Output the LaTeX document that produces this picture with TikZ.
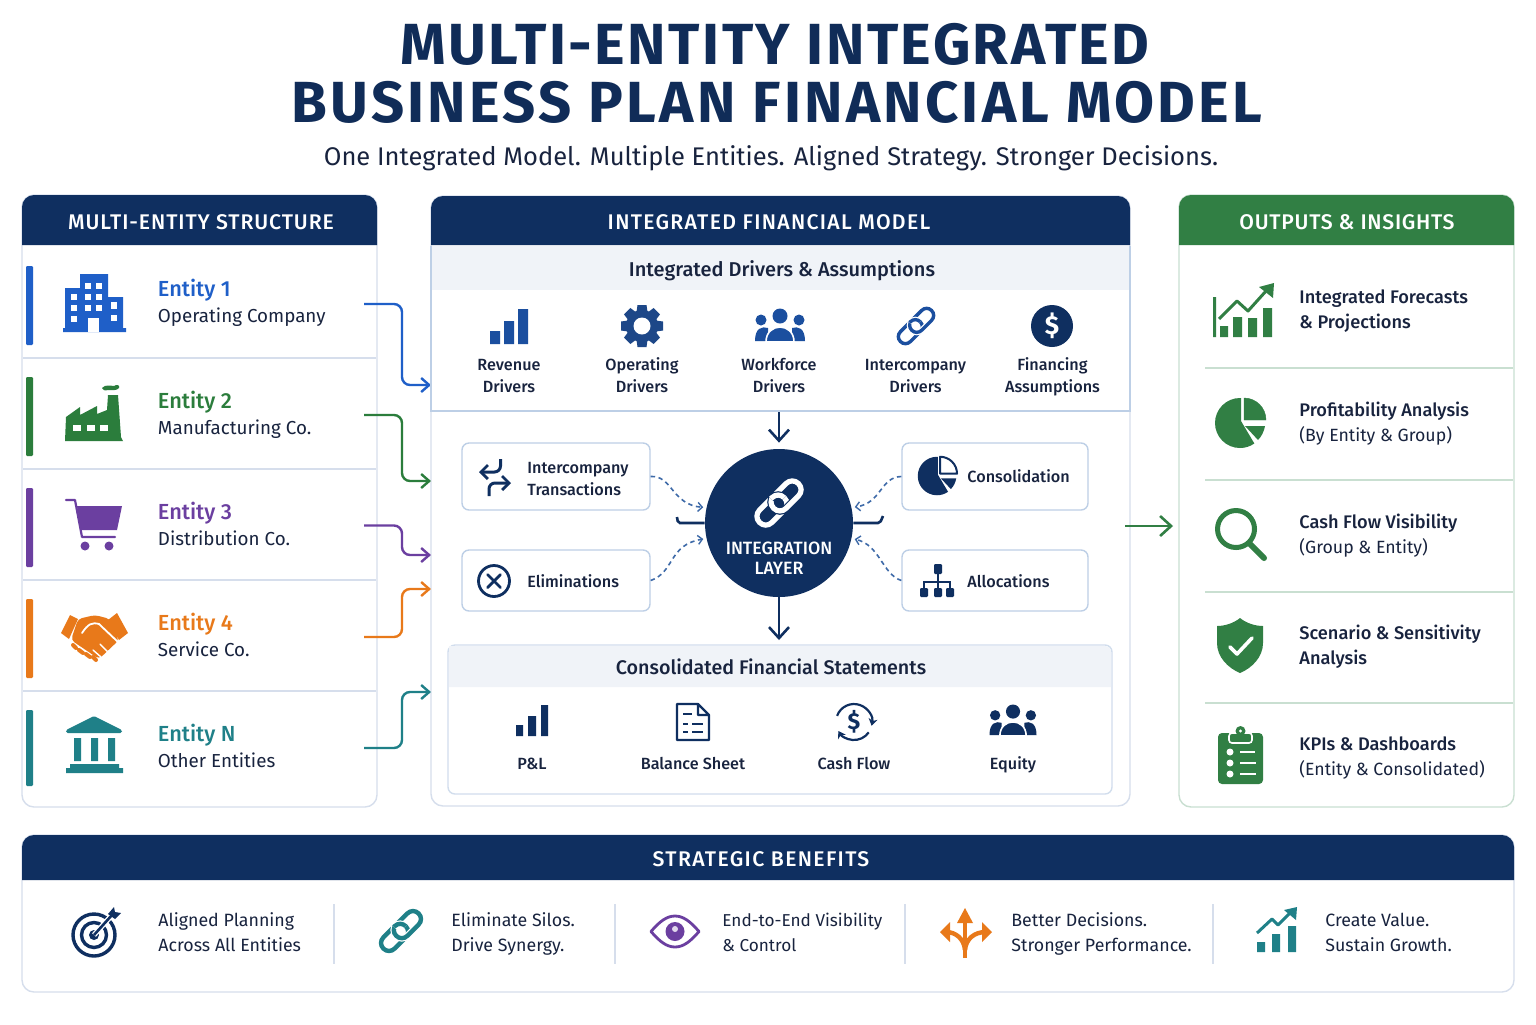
\documentclass[tikz,border=0pt]{standalone}
\usepackage{fontspec}
\setmainfont{Fira Sans}
\newfontfamily\fmed{Fira Sans Medium}
\newfontfamily\ftitleA{Fira Sans}[LetterSpace=4.3]
\newfontfamily\ftitleB{Fira Sans}[LetterSpace=5.6]
\usetikzlibrary{arrows.meta}
\definecolor{navy}{HTML}{0F2F60}
\definecolor{titleink}{HTML}{102C58}
\definecolor{ink}{HTML}{18233E}
\definecolor{royal}{HTML}{1B4F9F}
\definecolor{gearblue}{HTML}{1D4788}
\definecolor{eblue}{HTML}{1F5FC8}
\definecolor{egreen}{HTML}{2B7D3C}
\definecolor{epurple}{HTML}{6B3FA0}
\definecolor{eorange}{HTML}{E8791A}
\definecolor{eteal}{HTML}{1F8088}
\definecolor{hgreen}{HTML}{317F44}
\definecolor{panelline}{HTML}{D6DEEC}
\definecolor{greenline}{HTML}{C9DFD1}
\definecolor{band}{HTML}{F0F3F8}
\definecolor{boxline}{HTML}{BDCFE6}
\definecolor{dashblue}{HTML}{3E6AA8}
\newcommand\linkApath{(-15,-7) -- (-1,-7) .. controls (3,-7) and (6,-4) .. (6,0) .. controls (6,4) and (3,7) .. (-1,7) -- (-15,7) .. controls (-19,7) and (-22,4) .. (-22,0) .. controls (-22,-4) and (-19,-7) .. (-15,-7) -- cycle}
\newcommand\linkBpath{(1,-7) -- (15,-7) .. controls (19,-7) and (22,-4) .. (22,0) .. controls (22,4) and (19,7) .. (15,7) -- (1,7) .. controls (-3,7) and (-6,4) .. (-6,0) .. controls (-6,-4) and (-3,-7) .. (1,-7) -- cycle}
\newcommand\tl[2]{\strut #1\\\strut #2}
\newcommand\omed[1]{{\fmed\fontsize{9.1}{12.5}\selectfont #1}}
\newcommand\ename[2]{{\fmed\color{#1}\fontsize{10.9}{13}\selectfont #2}}
\tikzset{
  x=.5pt,y=-.5pt,
  txt/.style={inner sep=0pt,text=ink,anchor=west,align=left,yshift=-1pt,font=\fontsize{9.4}{13}\selectfont},
  otxt/.style={inner sep=0pt,text=ink,anchor=west,align=left,yshift=-.5pt,font=\fontsize{8.85}{12.5}\selectfont},
  btxt/.style={inner sep=0pt,text=ink,anchor=west,align=left,yshift=-.5pt,font=\fontsize{8.9}{12.5}\selectfont},
  ctxt/.style={inner sep=0pt,text=ink,anchor=center,align=center,yshift=-1pt,font=\fmed\fontsize{8.1}{11}\selectfont},
  ltxt/.style={ctxt,anchor=west,align=left},
  bandtxt/.style={inner sep=0pt,text=ink,anchor=center,yshift=-1.5pt,font=\fmed\fontsize{#1}{12}\selectfont},
  headtxt/.style={inner sep=0pt,text=white,anchor=center,font=\fmed\fontsize{10.6}{12}\selectfont\addfontfeature{LetterSpace=#1}},
  minibox/.style={draw=boxline,line width=.7pt,rounded corners=3.5pt,fill=white,inner sep=0pt},
  conn/.style={line width=1.2pt,rounded corners=4pt,-{Straight Barb[length=4pt,width=7pt,line width=1.2pt]}},
  flow/.style={line width=1.3pt,-{Straight Barb[length=5.5pt,width=10pt,line width=1.3pt]}},
  dashflow/.style={dashblue,line width=.8pt,dash pattern=on 2.2pt off 1.8pt,shorten >=1.5pt,-{Straight Barb[length=2.2pt,width=4.5pt,line width=.7pt]}},
  pics/barsicon/.style={code={\fill[#1] (-19,5) rectangle (-9,18) (-5,-5) rectangle (5,18) (9,-17) rectangle (19,18);}},
  pics/gearicon/.style={code={
    \foreach \a in {0,45,...,315}{\fill[#1,rotate=\a] (-4.5,-21) -- (4.5,-21) -- (5.5,-14) -- (-5.5,-14) -- cycle;}
    \fill[#1] (0,0) circle (16);
    \fill[white] (0,0) circle (8.5);}},
  pics/people/.style={code={
    \fill[#1] (-19,-5) circle (5.5) (19,-5) circle (5.5) (0,-9) circle (7.5);
    \fill[#1] (-25,16) .. controls (-25,3) and (-18,1) .. (-12,3) -- (-12,16) -- cycle;
    \fill[#1] (25,16) .. controls (25,3) and (18,1) .. (12,3) -- (12,16) -- cycle;
    \fill[#1,draw=white,line width=.8pt] (-14,17) .. controls (-14,-3) and (14,-3) .. (14,17) -- cycle;}},
  pics/linkicon/.style n args={3}{code={
    \begin{scope}[rotate=45]
      \draw[#1,line width=#3] \linkApath;
      \draw[#2,line width=#3+1.2pt] \linkBpath;
      \draw[#1,line width=#3] \linkBpath;
      \clip (-2,-14) rectangle (12,0);
      \draw[#2,line width=#3+1.2pt] \linkApath;
      \draw[#1,line width=#3] \linkApath;
    \end{scope}}},
  pics/pieicon/.style n args={3}{code={
    \fill[#1] (1,-25) -- (0,-25) arc[start angle=-90,end angle=-305,radius=25] -- (1,-2) -- cycle;
    \draw[#1,line width=#3,fill=#2,line join=round] (4,-3) -- (4,-25) arc[start angle=-90,end angle=0,radius=22] -- cycle;
    \fill[#1] (5,3) -- (25,3) .. controls (24,8) and (22,13) .. (18,17) -- cycle;}},
}
\begin{document}
\begin{tikzpicture}
\useasboundingbox (0,0) rectangle (1536,1024);
\fill[white] (0,0) rectangle (1536,1024);

% ---- title
\node[inner sep=0pt,text=titleink,font=\ftitleA\bfseries\fontsize{29}{29}\selectfont] (title1) at (775,44) {MULTI-ENTITY INTEGRATED};
\node[inner sep=0pt,text=titleink,font=\ftitleB\bfseries\fontsize{29}{29}\selectfont] (title2) at (777,102) {BUSINESS PLAN FINANCIAL MODEL};
\node[inner sep=0pt,text=ink,yshift=-1.5pt,font=\fontsize{12.76}{16}\selectfont] (subtitle) at (771,156) {\strut One Integrated Model. Multiple Entities. Aligned Strategy. Stronger Decisions.};

% ---- panels
\draw[panelline,line width=.7pt,fill=white,rounded corners=6pt] (22,195) rectangle (377,807);
\fill[navy] (22,245) [rounded corners=6pt] -- (22,195) -- (377,195) [sharp corners] -- (377,245) -- cycle;
\draw[panelline,line width=.7pt,fill=white,rounded corners=6pt] (431,196) rectangle (1130,806);
\fill[navy] (431,245) [rounded corners=6pt] -- (431,196) -- (1130,196) [sharp corners] -- (1130,245) -- cycle;
\draw[greenline,line width=.7pt,fill=white,rounded corners=6pt] (1179,195) rectangle (1514,807);
\fill[hgreen] (1179,245) [rounded corners=6pt] -- (1179,195) -- (1514,195) [sharp corners] -- (1514,245) -- cycle;
\draw[panelline,line width=.7pt,fill=white,rounded corners=6pt] (22,835) rectangle (1514,992);
\fill[navy] (22,880) [rounded corners=6pt] -- (22,835) -- (1514,835) [sharp corners] -- (1514,880) -- cycle;

\node[headtxt=4.3] (hleft) at (201,222) {MULTI-ENTITY STRUCTURE};
\node[headtxt=6.1] (hmid) at (769,222) {INTEGRATED FINANCIAL MODEL};
\node[headtxt=3.4] (hright) at (1347,222) {OUTPUTS \& INSIGHTS};
\node[headtxt=6.3] (hbottom) at (761,859) {STRATEGIC BENEFITS};

% ---- left rows
\foreach \y in {358,469,580,691} \draw[panelline,line width=.6pt] (23,\y) -- (376,\y);
\fill[eblue,rounded corners=.6pt] (26,266) rectangle (33,345);
\fill[egreen,rounded corners=.6pt] (26,377) rectangle (33,456);
\fill[epurple,rounded corners=.6pt] (26,488) rectangle (33,567);
\fill[eorange,rounded corners=.6pt] (26,599) rectangle (33,678);
\fill[eteal,rounded corners=.6pt] (26,710) rectangle (33,786);

\node[txt] (e1) at (157.5,302) {\tl{\ename{eblue}{Entity 1}}{Operating Company}};
\node[txt] (e2) at (157.5,414) {\tl{\ename{egreen}{Entity 2}}{Manufacturing Co.}};
\node[txt] (e3) at (157.5,525) {\tl{\ename{epurple}{Entity 3}}{Distribution Co.}};
\node[txt] (e4) at (157.5,636) {\tl{\ename{eorange}{Entity 4}}{Service Co.}};
\node[txt] (e5) at (157.5,747) {\tl{\ename{eteal}{Entity N}}{Other Entities}};

% building
\fill[eblue] (65,288) -- (80,288) -- (80,274) -- (108,274) -- (108,297) -- (123,297) -- (123,328) -- (126,328) -- (126,332) -- (63,332) -- (63,328) -- (65,328) -- cycle;
\foreach \p in {85/283,96/283,71/294,85/294,96/294,71/305,85/305,96/305,71/316,111/315}
  \foreach \a/\b in \p {\fill[white] (\a,\b) rectangle +(6,6);}
\fill[white] (111,302) rectangle (117,309);
\fill[white] (88,318) rectangle (99,332);
% factory
\fill[egreen] (66,417) -- (80,407) -- (80,415) -- (97,406) -- (97,414) -- (107,410) -- (108,395) -- (118,395) -- (121,437) -- (123,441) -- (65,441) -- cycle;
\foreach \a in {73,87,100} \fill[white] (\a,425) rectangle +(8,6);
\fill[egreen] (102,388) .. controls (105,384) and (112,386) .. (114,386) .. controls (117,384) and (120,385) .. (119,388) .. controls (117,391) and (111,390) .. (108,390) .. controls (105,391) and (102,390) .. (102,388) -- cycle;
% cart
\draw[epurple,line width=1.1pt,line join=round,line cap=round] (66,500) -- (75,500) -- (82,537) -- (115,537);
\fill[epurple] (77,506) -- (122,506) -- (117,530) -- (81,530) -- cycle;
\fill[epurple] (85,546) circle (4.5) (109,546) circle (4.5);
% handshake
\fill[eorange] (61,633) -- (70,615) -- (78,619) -- (69,639) -- cycle;
\fill[eorange] (117,613) -- (128,633) -- (119,640) -- (108,620) -- cycle;
\fill[eorange,rounded corners=2pt] (78,619) -- (95,615) -- (110,619) -- (119,640) -- (99,659) -- (71,640) -- cycle;
\draw[white,line width=.9pt,line cap=round] (82,633) .. controls (88,624) and (92,622) .. (99,624) -- (118,642);
\draw[white,line width=.7pt,line cap=round] (100,644) -- (108,652) (93,650) -- (101,657);
\draw[eorange,line width=2pt,line cap=round] (73,645) -- (76,648) (79,650) -- (83,653) (86,654) -- (90,657) (93,657) -- (96,660);
% bank
\fill[eteal,rounded corners=.8pt] (94,716) -- (122,730) -- (122,733) -- (66,733) -- (66,730) -- cycle;
\fill[eteal] (74,738) rectangle (81,761) (91,738) rectangle (98,761) (108,738) rectangle (115,761);
\fill[eteal] (70,764) rectangle (119,768) (66,768) rectangle (123,773);

% ---- entity connectors
\coordinate (e1o) at (364,304); \coordinate (e1b) at (402,345); \coordinate (e1i) at (431,385);
\coordinate (e2o) at (364,415); \coordinate (e2b) at (402,450); \coordinate (e2i) at (431,481);
\coordinate (e3o) at (364,525.5); \coordinate (e3b) at (402,540); \coordinate (e3i) at (431,555);
\coordinate (e4o) at (364,637); \coordinate (e4b) at (402,612); \coordinate (e4i) at (431,589);
\coordinate (e5o) at (364,748); \coordinate (e5b) at (402,720); \coordinate (e5i) at (431,692);
\draw[conn,eblue] (e1o) -| (e1b) |- (e1i);
\draw[conn,egreen] (e2o) -| (e2b) |- (e2i);
\draw[conn,epurple] (e3o) -| (e3b) |- (e3i);
\draw[conn,eorange] (e4o) -| (e4b) |- (e4i);
\draw[conn,eteal] (e5o) -| (e5b) |- (e5i);

% ---- drivers
\fill[band] (432,246) rectangle (1129,290);
\draw[boxline,line width=.7pt] (431,246) -- (431,411) -- (1130,411) -- (1130,246);
\node[bandtxt=10] (dtitle) at (782,269) {\strut Integrated Drivers \& Assumptions};
\pic at (509,326) {barsicon=royal};
\pic at (642,326) {gearicon=gearblue};
\pic at (780,325) {people=royal};
\pic at (916,326) {linkicon={royal}{white}{1.7pt}};
\node[circle,fill=navy,minimum size=21pt,inner sep=0pt,text=white,font=\bfseries\fontsize{13}{13}\selectfont] (dollarA) at (1052,326) {\$};
\node[ctxt] (d1) at (509,375) {\tl{Revenue}{Drivers}};
\node[ctxt] (d2) at (642,375) {\tl{Operating}{Drivers}};
\node[ctxt] (d3) at (779,375) {\tl{Workforce}{Drivers}};
\node[ctxt] (d4) at (915.5,375) {\tl{Intercompany}{Drivers}};
\node[ctxt] (d5) at (1052.5,375) {\tl{Financing}{Assumptions}};

% ---- hub
\coordinate (dbottom) at (779,412);
\node[circle,fill=navy,minimum size=74pt,inner sep=0pt] (hub) at (779,523) {};
\pic[scale=1.25] at (779,503) {linkicon={white}{navy}{2.6pt}};
\node[inner sep=0pt,text=white,align=center,yshift=-1.2pt,font=\fmed\fontsize{8.9}{10.2}\selectfont] (hubt) at (779,558) {\tl{INTEGRATION}{LAYER}};
\coordinate (stop) at (779,640);
\draw[flow,navy,shorten >=3pt] (dbottom) -- (hub.north);
\draw[flow,navy] (hub.south) -- (stop);

\node[minibox,minimum width=94pt,minimum height=33.5pt] (bIC) at (556,476.5) {};
\node[minibox,minimum width=94pt,minimum height=30.5pt] (bEL) at (556,580.5) {};
\node[minibox,minimum width=93pt,minimum height=33.5pt] (bCO) at (995,476.5) {};
\node[minibox,minimum width=93pt,minimum height=30.5pt] (bAL) at (995,580.5) {};
\node[ltxt] (tIC) at (527,478) {\tl{Intercompany}{Transactions}};
\node[ltxt] (tEL) at (527,581) {\strut Eliminations};
\node[ltxt] (tCO) at (967,476) {\strut Consolidation};
\node[ltxt] (tAL) at (967,581) {\strut Allocations};

\draw[dashflow] (bIC.east) .. controls (672,475) and (672,505) .. (hub.168);
\draw[dashflow] (bEL.east) .. controls (675,572) and (668,545) .. (hub.192);
\draw[dashflow] (bCO.west) .. controls (880,477) and (882,503) .. (hub.12);
\draw[dashflow] (bAL.west) .. controls (882,574) and (880,545) .. (hub.-12);
% short marks at the hub
\coordinate (mL) at (677,517); \coordinate (mLa) at (678,523);
\coordinate (mR) at (883,516); \coordinate (mRa) at (880,523);
\draw[navy,line width=1.3pt,rounded corners=1pt] (mL) -- (mLa) -- (hub.west);
\draw[navy,line width=1.3pt,rounded corners=1pt] (hub.east) -- (mRa) -- (mR);

% box icons
\draw[navy,line width=1.5pt,rounded corners=3pt,-{Straight Barb[length=3.5pt,width=7pt,line width=1.4pt]}] (500.5,459) -- (500.5,472) -- (479,472);
\draw[navy,line width=1.5pt,rounded corners=3pt,-{Straight Barb[length=3.5pt,width=7pt,line width=1.4pt]}] (489,496) -- (489,483) -- (511,483);
\draw[navy,line width=1.4pt] (494,581) circle (15.5);
\draw[navy,line width=1.4pt,line cap=round] (487.5,574.5) -- (500.5,587.5) (487.5,587.5) -- (500.5,574.5);
\pic[scale=.77] at (937,476) {pieicon={navy}{white}{1pt}};
\draw[navy,line width=.8pt] (938,570) -- (938,590) (924,592) -- (924,582) -- (950,582) -- (950,592);
\fill[navy,rounded corners=.6pt] (934,564) rectangle (942,574) (920,588) rectangle (928,597) (934,588) rectangle (942,597) (946,588) rectangle (954,597);

% ---- statements
\draw[boxline!70,line width=.7pt,fill=white,rounded corners=3.5pt] (448,645) rectangle (1112,794);
\fill[band] (449,646) [rounded corners=3pt] -- (1111,646) [sharp corners] -- (1111,687) -- (449,687) -- cycle;
\node[bandtxt=9.85] (stitle) at (771,667) {\strut Consolidated Financial Statements};
\fill[navy] (516,725) rectangle (523,736) (528,716) rectangle (536,736) (541,705) rectangle (548,736);
\draw[navy,line width=1.2pt,line join=round] (677,704) -- (698,704) -- (709,715) -- (709,740) -- (677,740) -- cycle (698,704) -- (698,715) -- (709,715);
\draw[navy,line width=1.2pt] (683,714) -- (692,714) (683,724) -- (688,724) (692,724) -- (703,724) (683,732) -- (688,732) (692,732) -- (703,732);
\draw[navy,line width=1.1pt,-{Stealth[length=3.5pt,width=4.5pt]}] (854,722) ++(-160:18) arc[start angle=-160,end angle=12,radius=18];
\draw[navy,line width=1.1pt,-{Stealth[length=3.5pt,width=4.5pt]}] (854,722) ++(35:18) arc[start angle=35,end angle=150,radius=18];
\node[inner sep=0pt,text=navy,font=\bfseries\fontsize{11.5}{12}\selectfont] (dollarB) at (854,722) {\$};
\pic[scale=.94] at (1013,720) {people=navy};
\node[ctxt] (s1) at (532,763) {\strut P\&L};
\node[ctxt] (s2) at (693,763) {\strut Balance Sheet};
\node[ctxt] (s3) at (854,763) {\strut Cash Flow};
\node[ctxt] (s4) at (1013,763) {\strut Equity};

% ---- outputs
\foreach \y in {368,480,592,703} \draw[greenline,line width=.6pt] (1205,\y) -- (1513,\y);
\node[otxt] (o1) at (1299,309.5) {\tl{\omed{Integrated Forecasts}}{\omed{\& Projections}}};
\node[otxt] (o2) at (1299,422.5) {\tl{\omed{Profitability Analysis}}{(By Entity \& Group)}};
\node[otxt] (o3) at (1299,534.5) {\tl{\omed{Cash Flow Visibility}}{(Group \& Entity)}};
\node[otxt] (o4) at (1299,645.5) {\tl{\omed{Scenario \& Sensitivity}}{\omed{Analysis}}};
\node[otxt] (o5) at (1299,756.5) {\tl{\omed{KPIs \& Dashboards}}{(Entity \& Consolidated)}};
\coordinate (outa) at (1125,526); \coordinate (outb) at (1173,526);
\draw[flow,hgreen] (outa) -- (outb);
% chart
\fill[hgreen] (1213,297) rectangle (1216,337) (1220,326) rectangle (1228,337) (1233,317) rectangle (1242,337) (1248,318) rectangle (1257,337) (1263,308) rectangle (1272,337);
\draw[hgreen,line width=1.5pt,line join=round] (1219,319) -- (1237,301) -- (1248,311) -- (1266,291);
\fill[hgreen] (1259,287) -- (1274,283) -- (1273,298) -- cycle;
% pie
\pic at (1240,423) {pieicon={hgreen}{hgreen}{.2pt}};
% magnifier
\draw[hgreen,line width=2.5pt] (1236,529) circle (18.5);
\draw[hgreen,line width=3pt,line cap=round] (1250,544) -- (1264,558);
% shield
\fill[hgreen] (1240,618) .. controls (1246,623) and (1255,626) .. (1263,626) -- (1263,643) .. controls (1263,657) and (1252,668) .. (1240,673) .. controls (1228,668) and (1217,657) .. (1217,643) -- (1217,626) .. controls (1225,626) and (1234,623) .. (1240,618) -- cycle;
\draw[white,line width=1.8pt,line cap=round,line join=round] (1230,647) -- (1237,654) -- (1252,638);
% clipboard
\fill[hgreen,rounded corners=2pt] (1218,733) rectangle (1263,784);
\draw[white,line width=.8pt,fill=hgreen,rounded corners=1.5pt] (1229,733) rectangle (1252,743);
\fill[hgreen] (1240.5,731) circle (5);
\fill[white] (1240.5,731) circle (1.6);
\fill[white] (1230,752) circle (3.5) (1230,763) circle (3.5) (1230,774) circle (3.5);
\draw[white,line width=1.2pt] (1240,752) -- (1255,752) (1240,763) -- (1256,763) (1240,774) -- (1256,774);

% ---- benefits
\foreach \x in {334,615,905,1213} \draw[panelline,line width=.6pt] (\x,904) -- (\x,964);
\node[btxt] (b1) at (158,932.5) {\tl{Aligned Planning}{Across All Entities}};
\node[btxt] (b2) at (451,932.5) {\tl{Eliminate Silos.}{Drive Synergy.}};
\node[btxt,font=\fontsize{8.6}{12.5}\selectfont] (b3) at (722,932.5) {\tl{End-to-End Visibility}{\& Control}};
\node[btxt] (b4) at (1011,932.5) {\tl{Better Decisions.}{Stronger Performance.}};
\node[btxt] (b5) at (1325,932.5) {\tl{Create Value.}{Sustain Growth.}};
% target
\draw[navy,line width=1.7pt] (94,935) circle (21);
\draw[navy,line width=1.7pt] (94,935) circle (12.5);
\fill[navy] (94,935) circle (5);
\draw[white,line width=2.6pt] (94,935) -- (112,915);
\draw[navy,line width=1.3pt] (94,935) -- (112,915);
\fill[navy] (108,914) -- (114,907) -- (115,912) -- (121,913) -- (115,919) -- cycle;
\pic[scale=1.13] at (401,931) {linkicon={eteal}{white}{2.2pt}};
% eye
\draw[epurple,line width=1.4pt,line join=round] (651,931.5) .. controls (660,921) and (667,916) .. (675,916) .. controls (683,916) and (690,921) .. (699,931.5) .. controls (690,942) and (683,947) .. (675,947) .. controls (667,947) and (660,942) .. (651,931.5) -- cycle;
\fill[epurple] (675,931.5) circle (9.5);
\fill[white!80!epurple] (675,929) circle (3);
% split arrows
\draw[eorange,line width=2.3pt] (965,958) -- (965,914);
\fill[eorange] (965,908) -- (973,923) -- (957,923) -- cycle;
\draw[eorange,line width=2.2pt] (965,950) .. controls (964,939) and (956,932) .. (946,932);
\draw[eorange,line width=2.2pt] (965,950) .. controls (966,939) and (974,932) .. (986,932);
\fill[eorange] (940,932) -- (950,922) -- (950,942) -- cycle;
\fill[eorange] (992,932) -- (982,922) -- (982,942) -- cycle;
% growth
\fill[eteal] (1257,942) rectangle (1265,952) (1272,934) rectangle (1280,952) (1288,926) rectangle (1296,952);
\draw[eteal,line width=1.5pt,line join=round] (1257,933) -- (1272,919) -- (1278,925) -- (1291,912);
\fill[eteal] (1284,910) -- (1297,907) -- (1296,920) -- cycle;
\end{tikzpicture}
\end{document}
